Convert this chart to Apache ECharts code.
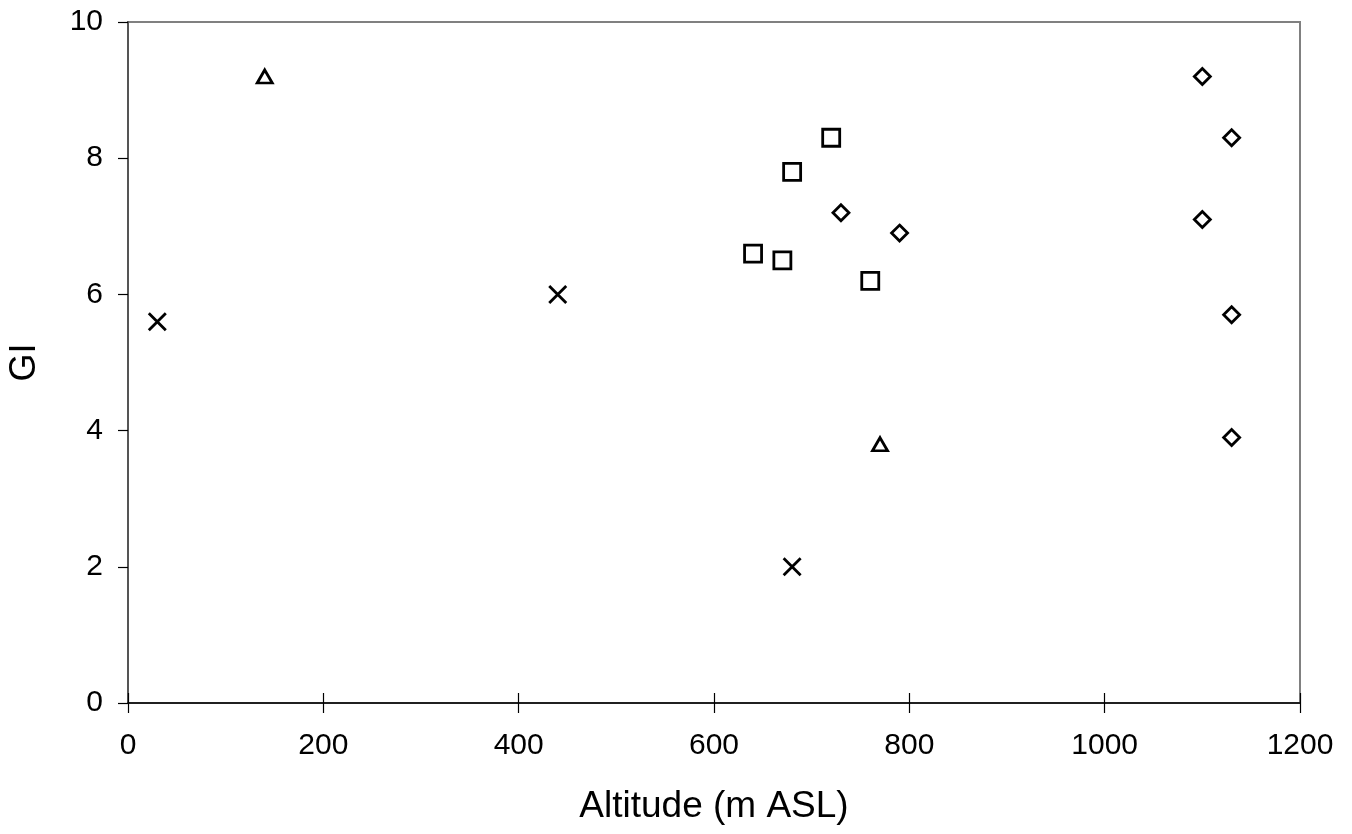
<!DOCTYPE html>
<html><head><meta charset="utf-8">
<script src="https://cdn.jsdelivr.net/npm/echarts@6/dist/echarts.min.js"></script>
<style>html,body{margin:0;padding:0;background:#fff}#c{width:1352px;height:834px}</style>
</head><body><div id="c"></div>
<script>
const crossPts = [[30,5.6],[440,6.0],[680,2.0]];
const trianglePts = [[140,9.2],[770,3.8]];
const squarePts = [[640,6.6],[670,6.5],[680,7.8],[720,8.3],[760,6.2]];
const diamondPts = [[730,7.2],[790,6.9],[1100,9.2],[1130,8.3],[1100,7.1],[1130,5.7],[1130,3.9]];
const xTicks = {min:0,max:1200,interval:200};
const yTicks = {min:0,max:10,interval:2};

const font = 'Liberation Sans, Arial, sans-serif';
const chart = echarts.init(document.getElementById('c'));
const hollow = {color:'#fff',borderColor:'#000',borderWidth:2.8,opacity:1};
chart.setOption({
  animation:false,
  grid:{left:128,top:22,right:52,bottom:131,containLabel:false,outerBoundsMode:'none',
        show:true,borderColor:'#808080',borderWidth:2,backgroundColor:'#fff'},
  xAxis:[{
    type:'value',min:xTicks.min,max:xTicks.max,interval:xTicks.interval,
    name:'Altitude (m ASL)',nameLocation:'middle',nameGap:85,
    nameTextStyle:{fontFamily:font,fontSize:37,color:'#000'},
    axisLine:{show:true,lineStyle:{color:'#000',width:1.5}},
    axisTick:{show:true,inside:false,length:10,lineStyle:{color:'#000',width:1.2}},
    axisLabel:{fontFamily:font,fontSize:30,color:'#000',margin:28,formatter:v=>String(v)},
    splitLine:{show:false}
  },{
    type:'value',min:xTicks.min,max:xTicks.max,interval:xTicks.interval,position:'bottom',offset:0,
    axisLine:{show:false},
    axisTick:{show:true,inside:true,length:10,lineStyle:{color:'#000',width:1.2}},
    axisLabel:{show:false},splitLine:{show:false}
  }],
  yAxis:{
    type:'value',min:yTicks.min,max:yTicks.max,interval:yTicks.interval,
    name:'GI',nameLocation:'middle',nameGap:85,nameRotate:90,
    nameTextStyle:{fontFamily:font,fontSize:36,color:'#000'},
    axisLine:{show:true,lineStyle:{color:'#555',width:2}},
    axisTick:{show:true,inside:false,length:10,lineStyle:{color:'#000',width:1.2}},
    axisLabel:{fontFamily:font,fontSize:30,color:'#000',margin:25},
    splitLine:{show:false}
  },
  series:[
    {type:'scatter',data:crossPts,symbol:'path://M0,0L10,10M10,0L0,10',symbolSize:17,
     itemStyle:{color:'none',borderColor:'#000',borderWidth:2.8,opacity:1}},
    {type:'scatter',data:trianglePts,symbol:'triangle',symbolSize:[15,13],itemStyle:hollow},
    {type:'scatter',data:squarePts,symbol:'rect',symbolSize:17,itemStyle:hollow},
    {type:'scatter',data:diamondPts,symbol:'diamond',symbolSize:[16,16],itemStyle:hollow}
  ]
});
</script></body></html>
